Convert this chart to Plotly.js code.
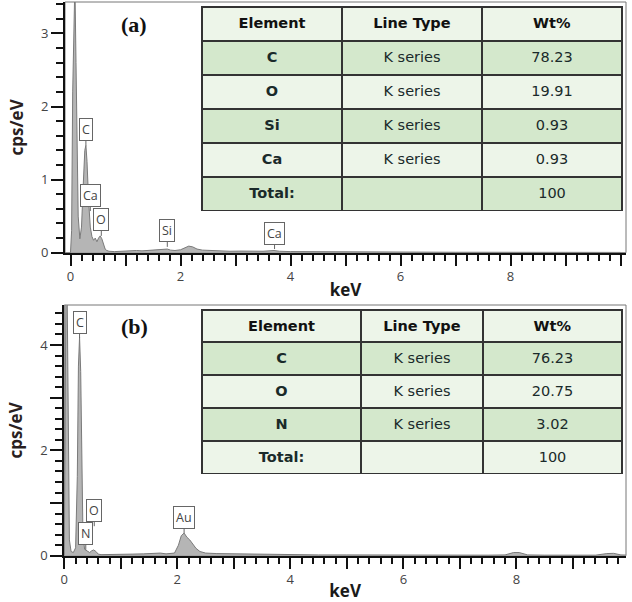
<!DOCTYPE html>
<html>
<head>
<meta charset="utf-8">
<script src="https://cdn.plot.ly/plotly-3.0.1.min.js"></script>
<style>html,body{margin:0;padding:0;background:#fff;}#chart{width:632px;height:602px;}</style>
</head>
<body>
<div id="chart"></div>
<script>
// ---- Spectrum (a) ----
var keVA = [0.00,0.02,0.04,0.06,0.08,0.10,0.12,0.14,0.17,0.20,0.23,0.26,0.28,0.30,0.33,0.36,0.39,0.42,0.45,0.48,0.51,0.54,0.57,0.60,0.63,0.66,0.70,0.80,0.90,1.00,1.10,1.20,1.30,1.40,1.50,1.60,1.70,1.76,1.82,1.90,2.00,2.08,2.15,2.22,2.30,2.40,2.50,2.70,2.90,3.10,3.30,3.50,3.70,3.80,4.00,4.50,5.00,5.50,6.00,6.50,7.00,7.50,8.00,8.50,9.00,9.50,10.00];
var cpsA = [0.00,0.30,2.20,3.60,3.70,2.60,1.20,0.50,0.19,0.35,0.90,1.40,1.47,1.25,0.70,0.35,0.22,0.17,0.20,0.15,0.20,0.23,0.19,0.10,0.05,0.03,0.02,0.015,0.02,0.025,0.02,0.03,0.025,0.03,0.028,0.032,0.04,0.05,0.035,0.03,0.04,0.07,0.09,0.08,0.05,0.035,0.03,0.025,0.02,0.022,0.018,0.02,0.03,0.02,0.015,0.012,0.01,0.01,0.008,0.008,0.006,0.006,0.01,0.005,0.005,0.004,0.004];

// ---- Spectrum (b) ----
var keVB = [0.00,0.01,0.03,0.05,0.07,0.09,0.12,0.16,0.20,0.23,0.25,0.27,0.29,0.31,0.33,0.36,0.39,0.42,0.45,0.48,0.52,0.56,0.60,0.65,0.80,1.00,1.20,1.40,1.60,1.70,1.80,1.95,2.02,2.07,2.12,2.17,2.22,2.28,2.33,2.40,2.50,2.70,3.00,3.30,3.50,3.70,3.80,4.00,4.50,5.00,5.50,6.00,6.50,7.00,7.50,7.80,7.95,8.05,8.20,8.50,9.00,9.40,9.60,9.72,9.85,10.00];
var cpsB = [0.00,1.50,5.20,5.00,1.50,0.30,0.08,0.06,0.15,1.50,3.60,4.15,3.50,1.60,0.40,0.12,0.10,0.08,0.06,0.09,0.11,0.08,0.03,0.02,0.02,0.03,0.03,0.035,0.04,0.05,0.035,0.05,0.20,0.38,0.43,0.35,0.30,0.20,0.14,0.08,0.05,0.04,0.035,0.03,0.025,0.035,0.02,0.02,0.015,0.015,0.012,0.012,0.01,0.01,0.01,0.015,0.06,0.06,0.015,0.01,0.01,0.01,0.04,0.045,0.015,0.01];

// ---- Peak labels ----
var peakNamesA = ['C','Ca','O','Si','Ca'];
var peakXA = [0.28,0.36,0.56,1.76,3.71];
var peakYA = [1.47,0.57,0.23,0.08,0.05];
var peakNamesB = ['C','N','O','Au'];
var peakXB = [0.27,0.38,0.53,2.12];
var peakYB = [4.13,0.11,0.56,0.43];

// ---- Tables ----
var headers = ['Element','Line Type','Wt%'];
var elementsA = ['C','O','Si','Ca','Total:'];
var lineTypeA = ['K series','K series','K series','K series',''];
var wtA = ['78.23','19.91','0.93','0.93','100'];
var elementsB = ['C','O','N','Total:'];
var lineTypeB = ['K series','K series','K series',''];
var wtB = ['76.23','20.75','3.02','100'];

// ---- Axis tick labels ----
var xTickVals = [0,1,2,3,4,5,6,7,8,9,10];
var xTickText = ['0','','2','','4','','6','','8','',''];
var yTickValsA = [0,1,2,3];
var yTickTextA = ['0','1','2','3'];
var yTickValsB = [0,1,2,3,4];
var yTickTextB = ['0','','2','','4'];

var W = 632, H = 602;
var darkG = '#d4e8cc', lightG = '#edf5e9';

function spectrum(x, y, xa, ya) {
  return {type:'scatter', mode:'lines', x:x, y:y, xaxis:xa, yaxis:ya,
    fill:'tozeroy', fillcolor:'#b5b5b5', line:{color:'#7a7a7a', width:1}, hoverinfo:'skip', showlegend:false};
}
function bold(a){ return a.map(function(s){ return s ? '<b>'+s+'</b>' : ''; }); }
function plain(a){ return a.map(function(s){ return s ? '<span>'+s+'</span>' : ''; }); }
function table(el, lt, wt, dom, colw, hh, ch) {
  var n = el.length, rowCols = [];
  for (var i=0;i<n;i++) rowCols.push(i%2===0 ? darkG : lightG);
  return {type:'table', domain:dom, columnwidth:colw,
    header:{values:bold(headers), height:hh, align:'center',
      fill:{color:lightG}, line:{color:'#333', width:1.5},
      font:{family:'DejaVu Sans', size:14.5, color:'#111'}},
    cells:{values:[bold(el), plain(lt), plain(wt)], height:ch, align:'center',
      fill:{color:[rowCols,rowCols,rowCols]}, line:{color:'#333', width:1.5},
      font:{family:'DejaVu Sans', size:14.5, color:'#1a2a2a'}}};
}

function xaxisCfg(dom, rng, anchor) {
  return {domain:dom, range:rng, anchor:anchor, tickmode:'array', tickvals:xTickVals, ticktext:xTickText,
    ticks:'outside', ticklen:11, tickwidth:2, tickcolor:'#111',
    minor:{dtick:0.2, tick0:0, ticks:'outside', ticklen:6, tickwidth:2, tickcolor:'#111'},
    showline:true, linewidth:2, linecolor:'#111', showgrid:false, zeroline:false,
    tickfont:{family:'Open Sans', size:13, color:'#444'},
    title:{text:'<b>keV</b>', font:{family:'Open Sans', size:17, color:'#1a1a1a'}, standoff:0}};
}
function yaxisCfg(dom, rng, anchor, tv, tt) {
  return {domain:dom, range:rng, anchor:anchor, tickmode:'array', tickvals:tv, ticktext:tt,
    ticks:'outside', ticklen:12, tickwidth:2, tickcolor:'#111',
    minor:{dtick:0.2, tick0:0, ticks:'outside', ticklen:7, tickwidth:2, tickcolor:'#111'},
    showline:true, linewidth:2, linecolor:'#111', showgrid:false, zeroline:false,
    tickfont:{family:'Open Sans', size:13, color:'#444'},
    title:{text:'<b>cps/eV</b>', font:{family:'Open Sans', size:17, color:'#2a1f1f'}, standoff:13}};
}

function peakAnn(names, xs, ys, xr, yr) {
  return names.map(function(n,i){
    return {x:xs[i], y:ys[i], xref:xr, yref:yr, text:n, showarrow:true, arrowhead:0, arrowwidth:1,
      arrowcolor:'#666', ax:0, ay:-16, bgcolor:'#fff', bordercolor:'#666', borderwidth:1, borderpad:2,
      font:{family:'Open Sans', size:12.5, color:'#444'}};
  });
}

var data = [
  spectrum(keVA, cpsA, 'x', 'y'),
  spectrum(keVB, cpsB, 'x2', 'y2'),
  table(elementsA, lineTypeA, wtA, {x:[202/W, 622/W], y:[1-212/H, 1-7/H]}, [140,140,140], 34, 34),
  table(elementsB, lineTypeB, wtB, {x:[202/W, 622/W], y:[1-474/H, 1-310/H]}, [159,122,139], 32, 33)
];

var anns = peakAnn(peakNamesA, peakXA, peakYA, 'x', 'y')
  .concat(peakAnn(peakNamesB, peakXB, peakYB, 'x2', 'y2'))
  .concat([
    {xref:'paper', yref:'paper', x:134/W, y:1-24/H, xanchor:'center', yanchor:'middle', text:'<b>(a)</b>', showarrow:false,
     font:{family:'Liberation Serif', size:22, color:'#111'}},
    {xref:'paper', yref:'paper', x:134/W, y:1-327/H, xanchor:'center', yanchor:'middle', text:'<b>(b)</b>', showarrow:false,
     font:{family:'Liberation Serif', size:22, color:'#111'}}
  ]);

var layout = {
  width:W, height:H, margin:{l:0, r:0, t:0, b:0}, paper_bgcolor:'#fff', plot_bgcolor:'#fff',
  showlegend:false,
  xaxis: xaxisCfg([65/W, 626/W], [-0.1, 10.1], 'y'),
  yaxis: yaxisCfg([1-252.7/H, 1-2/H], [0, 3.43], 'x', yTickValsA, yTickTextA),
  xaxis2: xaxisCfg([64.3/W, 626/W], [0, 9.94], 'y2'),
  yaxis2: yaxisCfg([1-555.7/H, 1-305/H], [0, 4.76], 'x2', yTickValsB, yTickTextB),
  shapes:[
    {type:'rect', xref:'x domain', yref:'y domain', x0:0, x1:1, y0:0, y1:1, line:{color:'#777', width:1}, layer:'below'},
    {type:'rect', xref:'x2 domain', yref:'y2 domain', x0:0, x1:1, y0:0, y1:1, line:{color:'#777', width:1}, layer:'below'}
  ],
  annotations: anns
};

Plotly.newPlot('chart', data, layout, {staticPlot:true, displayModeBar:false});
</script>
</body>
</html>
